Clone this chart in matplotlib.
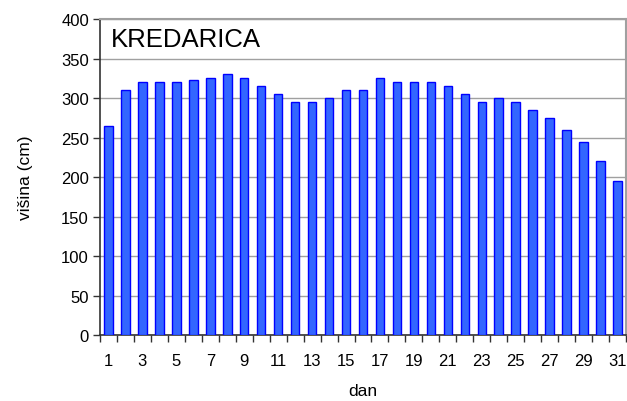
import numpy as np
import matplotlib
matplotlib.use("Agg")
import matplotlib.pyplot as plt

plt.rcParams['font.family'] = ['Liberation Sans', 'DejaVu Sans']

days = list(range(1, 32))
visina = [265, 310, 320, 320, 320, 323, 325, 330, 325, 315,
          305, 295, 295, 300, 310, 310, 325, 320, 320, 320,
          315, 305, 295, 300, 295, 285, 275, 260, 245, 220, 195]
yticks = [0, 50, 100, 150, 200, 250, 300, 350, 400]

fig = plt.figure(figsize=(6.27, 4.02), dpi=100)
ax = fig.add_axes([0.1595, 0.1642, 0.8389, 0.7858])

x = np.arange(len(days))
ax.bar(x, visina, width=0.5, color='#3366ff', edgecolor='#0000ff', linewidth=1.0, zorder=3)

ax.set_xlim(-0.5, len(days) - 0.5)
ax.set_ylim(0, 400)
ax.set_yticks(yticks)
ax.yaxis.grid(True, color='#a0a0a0', linewidth=1.0, zorder=0)

# ticks between categories, labels on odd days
ax.set_xticks(np.arange(-0.5, len(days) + 0.5, 1.0))
ax.set_xticklabels([])
ax.set_xticks(x[::2], minor=True)
ax.set_xticklabels([str(d) for d in days[::2]], minor=True)
ax.tick_params(axis='x', which='major', direction='out', length=5, width=1, color='#333333')
ax.tick_params(axis='x', which='minor', length=0, pad=13, labelsize=12)
ax.tick_params(axis='y', direction='out', length=5, width=1, color='#333333', labelsize=12, pad=3)

for s in ['top', 'right']:
    ax.spines[s].set_color('#a0a0a0')
    ax.spines[s].set_linewidth(1.5)
for s in ['left', 'bottom']:
    ax.spines[s].set_color('#333333')
    ax.spines[s].set_linewidth(1.2)

ax.set_ylabel('višina (cm)', fontsize=12.5, labelpad=20)
ax.set_xlabel('dan', fontsize=12.5, labelpad=11)
ax.text(0.02, 0.975, 'KREDARICA', transform=ax.transAxes, fontsize=18.5, va='top', ha='left')

fig.savefig('out.png', dpi=100)
